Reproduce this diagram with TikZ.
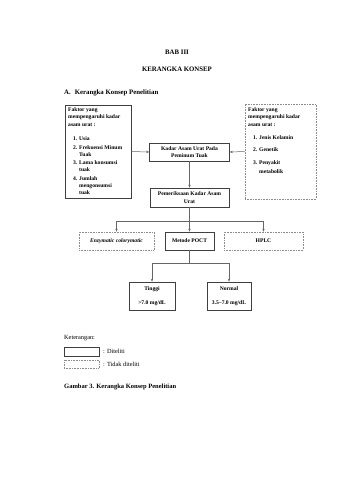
\documentclass[tikz,border=0pt]{standalone}
\usepackage{fontspec}
\setmainfont{Liberation Serif}
\usetikzlibrary{arrows.meta}
\begin{document}
\begin{tikzpicture}[x=1pt,y=-1pt,
  solidbox/.style={draw=black!75,line width=0.6pt,fill=white,inner sep=0pt,
    font=\fontsize{5.6}{7.3}\selectfont\bfseries,align=center},
  dotbox/.style={draw=black!45,line width=0.6pt,densely dotted,fill=white,inner sep=0pt,
    font=\fontsize{5.6}{7.3}\selectfont\bfseries,align=center},
  conn/.style={draw=black!60,line width=0.5pt},
  arr/.style={conn,-{Stealth[length=3pt,width=2.4pt]}},
  boxtext/.style={anchor=north west,inner sep=0pt,align=left,
    font=\fontsize{5.6}{7.3}\selectfont\bfseries},
  title/.style={inner sep=0pt,font=\fontsize{6.8}{8}\selectfont\bfseries},
  plain/.style={inner sep=0pt,anchor=west,font=\fontsize{6.3}{7.5}\selectfont}]
\useasboundingbox[fill=white] (0,0) rectangle (339,480);

% titles
\node[title] (bab) at (177,52) {BAB III};
\node[title] (kk) at (177,69) {KERANGKA KONSEP};
\node[title,anchor=west] (sec) at (64,93) {A.\hspace{4pt}Kerangka Konsep Penelitian};

% left factor box
\node[solidbox,minimum width=66pt,minimum height=93pt] (left) at (98,151.5) {};
\node[boxtext] (lefttxt) at (68,107.5) {Faktor yang\\mempengaruhi kadar\\asam urat :};
\node[boxtext] (leftlist) at (68,136.5) {%
\begin{minipage}[t]{60pt}\fontsize{5.6}{7}\selectfont\bfseries
\begin{list}{}{\setlength{\leftmargin}{11pt}\setlength{\labelwidth}{9pt}\setlength{\labelsep}{2pt}\setlength{\itemsep}{1.6pt}\setlength{\parsep}{0pt}\setlength{\topsep}{0pt}}
\item[1.] Usia
\item[2.] Frekuensi Minum\\Tuak
\item[3.] Lama konsumsi\\tuak
\item[4.] Jumlah\\mengonsumsi\\tuak
\end{list}\end{minipage}};

% right factor box
\node[dotbox,minimum width=71pt,minimum height=95pt] (right) at (280.5,151.5) {};
\node[boxtext] (righttxt) at (248,107.5) {Faktor yang\\mempengaruhi kadar\\asam urat :};
\node[boxtext] (rightlist) at (248,135) {%
\begin{minipage}[t]{64pt}\fontsize{5.6}{9.5}\selectfont\bfseries
\begin{list}{}{\setlength{\leftmargin}{11pt}\setlength{\labelwidth}{9pt}\setlength{\labelsep}{2pt}\setlength{\itemsep}{3.2pt}\setlength{\parsep}{0pt}\setlength{\topsep}{0pt}}
\item[1.] Jenis Kelamin
\item[2.] Genetik
\item[3.] Penyakit\\ metabolik
\end{list}\end{minipage}};

% central boxes
\node[solidbox,minimum width=80pt,minimum height=18pt] (k1) at (189.5,152) {Kadar Asam Urat Pada\\Peminum Tuak};
\node[solidbox,minimum width=79pt,minimum height=19pt] (k2) at (189.5,197.5) {Pemeriksaan Kadar Asam\\Urat};

\draw[arr] (left.east) -- (k1.west);
\draw[arr] (right.west) -- (k1.east);
\draw[arr] (k1.south) -- (k2.north);

% methods
\node[dotbox,minimum width=75pt,minimum height=18pt,font=\fontsize{5.6}{7.3}\selectfont\bfseries\itshape] (enz) at (116.5,241) {Enzymatic colorymatic};
\node[solidbox,minimum width=49pt,minimum height=18pt] (poct) at (189.5,241) {Metode POCT};
\node[dotbox,minimum width=79pt,minimum height=18pt] (hplc) at (263.5,241) {HPLC};

\coordinate (bj) at (189.5,221);
\draw[conn] (k2.south) -- (bj);
\draw[arr] (bj) -| (enz.north);
\draw[arr] (bj) -- (poct.north);
\draw[arr] (bj) -| (hplc.north);

% results
\node[solidbox,minimum width=46pt,minimum height=28pt,font=\fontsize{5.6}{14}\selectfont\bfseries] (ting) at (152,296) {Tinggi\\{>}7.0 mg/dL};
\node[solidbox,minimum width=44pt,minimum height=28pt,font=\fontsize{5.6}{14}\selectfont\bfseries] (norm) at (229,296) {Normal\\3.5--7.0 mg/dL};

\coordinate (bj2) at (189.5,263);
\draw[conn] (poct.south) -- (bj2);
\draw[arr] (bj2) -| (ting.north);
\draw[arr] (bj2) -| (norm.north);

% legend
\node[plain] (ket) at (64,338) {Keterangan:};
\node[draw=black!75,line width=0.6pt,minimum width=35pt,minimum height=9pt,inner sep=0pt] (lg1) at (81.5,351.5) {};
\node[plain] (lg1t) at (103,351.5) {: Diteliti};
\node[draw=black!45,line width=0.6pt,densely dotted,minimum width=35pt,minimum height=8pt,inner sep=0pt] (lg2) at (81.5,364) {};
\node[plain] (lg2t) at (103,364) {: Tidak diteliti};

\node[title,anchor=west,font=\fontsize{6.5}{8}\selectfont\bfseries] (cap) at (64,387) {Gambar 3. Kerangka Konsep Penelitian};
\end{tikzpicture}
\end{document}
